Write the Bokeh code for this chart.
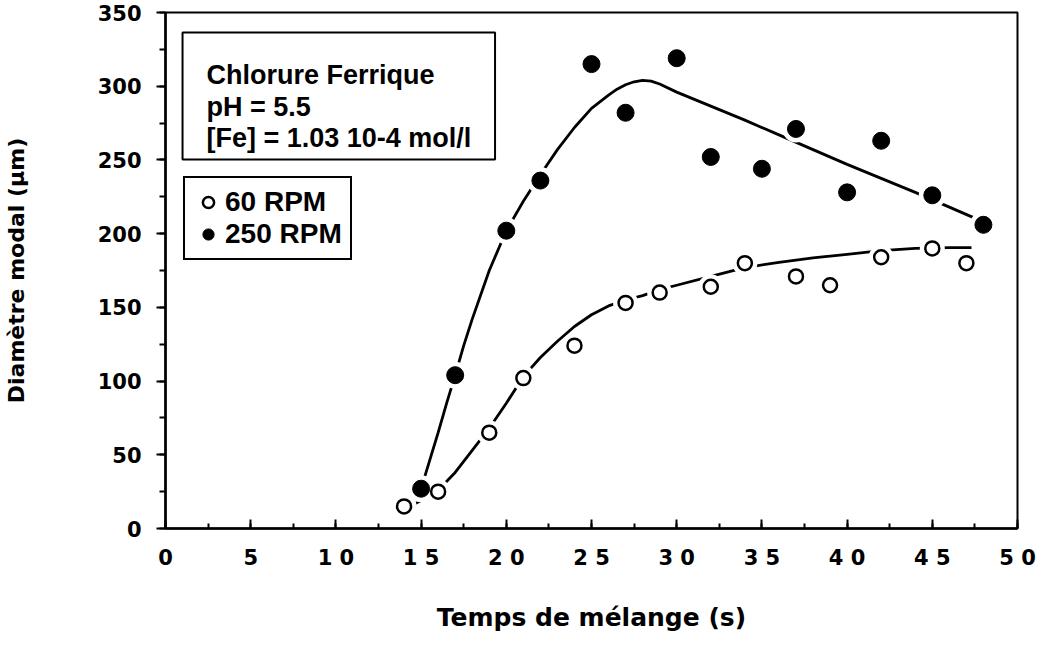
from bokeh.plotting import figure
from bokeh.models import (Range1d, SingleIntervalTicker, BoxAnnotation, Label,
                          Legend, LegendItem)
from bokeh.embed import file_html
from bokeh.resources import INLINE

# ---------------- data ----------------
time_60 = [14, 16, 19, 21, 24, 27, 29, 32, 34, 37, 39, 42, 45, 47]
diam_60 = [15, 25, 65, 102, 124, 153, 160, 164, 180, 171, 165, 184, 190, 180]

time_250 = [15, 17, 20, 22, 25, 27, 30, 32, 35, 37, 40, 42, 45, 48]
diam_250 = [27, 104, 202, 236, 315, 282, 319, 252, 244, 271, 228, 263, 226, 206]

# hand-drawn trend curves
fit_60_x = [14, 15, 16, 17, 18, 19, 20, 21, 22, 23, 24, 25, 26, 27, 28, 29, 30,
            32, 34, 36, 38, 40, 42, 44, 46, 47.3]
fit_60_y = [13, 19, 26, 38, 53, 68, 85, 103, 116, 127, 137, 145, 151, 155, 158,
            162, 165, 171, 177, 180.5, 183.5, 186, 188.5, 190, 190.5, 190.5]

fit_250_x = [15, 15.5, 16, 16.5, 17, 17.5, 18, 19, 20, 21, 22, 23, 24, 25, 26,
             26.5, 27, 27.5, 28, 28.5, 29, 30, 32, 34, 36, 38, 40, 42, 44, 46, 48]
fit_250_y = [27, 46, 65, 85, 104, 124, 142, 175, 202, 222, 240, 257, 272, 285,
             294, 298, 301, 303, 304, 303.5, 301.5, 296, 286.5, 277, 267, 257,
             247, 237.5, 228, 218, 208]

x_ticks = [0, 5, 10, 15, 20, 25, 30, 35, 40, 45, 50]
x_tick_labels = ["0", "5", "1 0", "1 5", "2 0", "2 5", "3 0", "3 5", "4 0",
                 "4 5", "5 0"]

title_x = "Temps de mélange (s)"
title_y = "Diamètre modal (µm)"
info_lines = ["Chlorure Ferrique", "pH = 5.5", "[Fe] = 1.03 10-4 mol/l"]
series_names = ["60 RPM", "250 RPM"]

# ---------------- figure ----------------
AX_FONT = "DejaVu Sans"
TXT_FONT = "Liberation Sans"

p = figure(width=1037, height=634,
           x_range=Range1d(0, 50), y_range=Range1d(0, 350),
           output_backend="svg", toolbar_location=None,
           min_border_left=164, min_border_right=20,
           min_border_top=12, min_border_bottom=106)

p.xgrid.visible = False
p.ygrid.visible = False
p.outline_line_color = "black"
p.outline_line_width = 2
p.outline_line_alpha = 1
p.background_fill_color = "white"
p.border_fill_color = "white"

xa = p.xaxis[0]
xa.ticker = SingleIntervalTicker(interval=5, num_minor_ticks=2)
xa.major_label_overrides = {t: l for t, l in zip(x_ticks, x_tick_labels)}
xa.major_tick_in = 9
xa.major_tick_out = 0
xa.minor_tick_in = 5
xa.minor_tick_out = 0
xa.axis_line_width = 2.5
xa.major_tick_line_width = 2
xa.minor_tick_line_width = 2
xa.major_label_text_font = AX_FONT
xa.major_label_text_font_style = "bold"
xa.major_label_text_font_size = "21px"
xa.major_label_text_color = "black"
xa.major_label_standoff = 17
xa.axis_label = title_x
xa.axis_label_text_font = AX_FONT
xa.axis_label_text_font_style = "bold"
xa.axis_label_text_font_size = "25px"
xa.axis_label_text_color = "black"
xa.axis_label_standoff = 30

ya = p.yaxis[0]
ya.ticker = SingleIntervalTicker(interval=50, num_minor_ticks=2)
ya.major_tick_in = 0
ya.major_tick_out = 9
ya.minor_tick_in = 0
ya.minor_tick_out = 6
ya.axis_line_width = 2.5
ya.major_tick_line_width = 2
ya.minor_tick_line_width = 2
ya.major_label_text_font = AX_FONT
ya.major_label_text_font_style = "bold"
ya.major_label_text_font_size = "21px"
ya.major_label_text_color = "black"
ya.major_label_standoff = 15
ya.axis_label = title_y
ya.axis_label_text_font = AX_FONT
ya.axis_label_text_font_style = "bold"
ya.axis_label_text_font_size = "22px"
ya.axis_label_text_color = "black"
ya.axis_label_standoff = 66

# ---------------- curves ----------------
p.line(fit_60_x, fit_60_y, line_color="black", line_width=2.8)
p.line(fit_250_x, fit_250_y, line_color="black", line_width=2.8)

# white halos so the curves stop short of the markers
p.scatter(time_60, diam_60, size=25, fill_color="white", line_color=None)
p.scatter(time_250, diam_250, size=27, fill_color="white", line_color=None)

r60 = p.scatter(time_60, diam_60, size=14, marker="circle",
                fill_color="white", line_color="black", line_width=2.5)
r250 = p.scatter(time_250, diam_250, size=17, marker="circle",
                 fill_color="black", line_color="black", line_width=1)

# ---------------- info box ----------------
info_box = BoxAnnotation(left=1.0, right=19.34, top=336.4, bottom=250.3,
                         fill_color="white", fill_alpha=1,
                         line_color="black", line_width=2, line_alpha=1)
p.add_layout(info_box)

for txt, yb in zip(info_lines, [307.3, 285.6, 265.2]):
    p.add_layout(Label(x=2.4, y=yb, text=txt, text_font=TXT_FONT,
                       text_font_size="27px", text_font_style="bold",
                       text_color="black", text_baseline="alphabetic"))

# ---------------- legend ----------------
legend = Legend(items=[LegendItem(label=series_names[0], renderers=[r60]),
                       LegendItem(label=series_names[1], renderers=[r250])],
                location=(18, 268), orientation="vertical",
                padding=8, spacing=0, margin=0,
                glyph_width=30, glyph_height=28, label_standoff=2,
                label_height=28,
                label_text_font=TXT_FONT, label_text_font_size="28px",
                label_text_font_style="bold", label_text_color="black",
                border_line_color="black", border_line_width=2,
                border_line_alpha=1,
                background_fill_color="white", background_fill_alpha=1)
p.add_layout(legend)

open("out.html", "w").write(file_html(p, INLINE))
